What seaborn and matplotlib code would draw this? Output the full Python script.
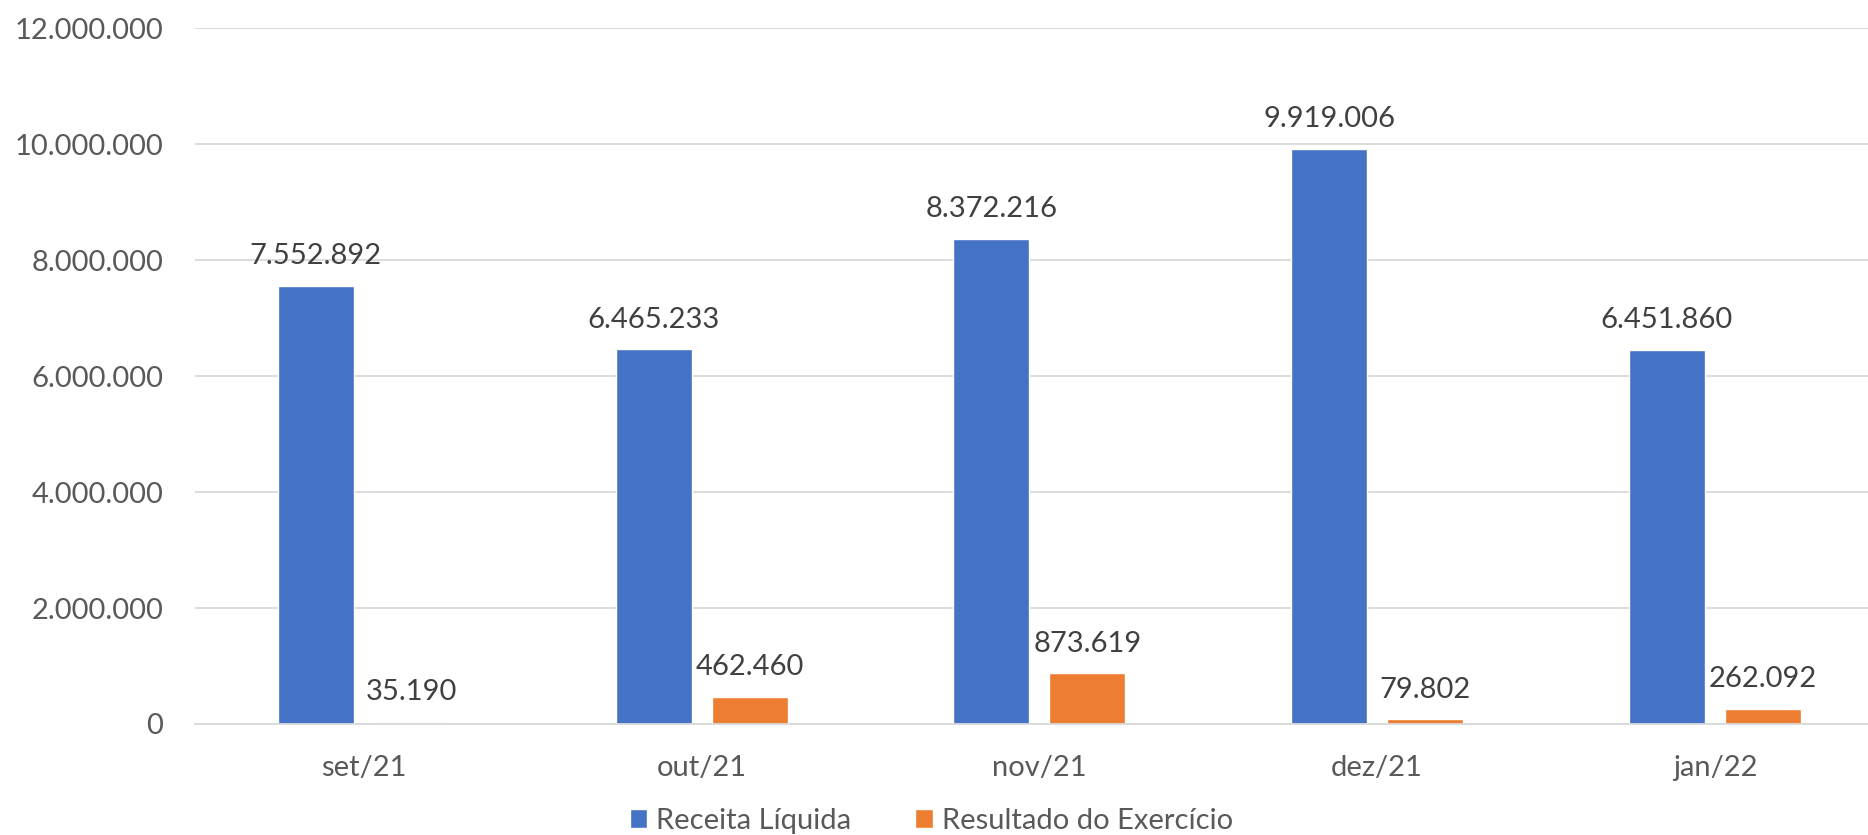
import pandas as pd
import matplotlib
matplotlib.use("Agg")
import matplotlib.pyplot as plt
from matplotlib.ticker import FuncFormatter, FixedLocator
import seaborn as sns

# dados
meses = ["set/21", "out/21", "nov/21", "dez/21", "jan/22"]
receita_liquida = [7552892, 6465233, 8372216, 9919006, 6451860]
resultado_exercicio = [35190, 462460, 873619, 79802, 262092]
series = ["Receita Líquida", "Resultado do Exercício"]
cores = ["#4472C4", "#ED7D31"]

df = pd.DataFrame({
    "mes": meses * 2,
    "valor": receita_liquida + resultado_exercicio,
    "serie": [series[0]] * len(meses) + [series[1]] * len(meses),
})


def fmt_br(v):
    return "{:,.0f}".format(v).replace(",", ".")


sns.set_style("white")
plt.rcParams["font.family"] = ["Lato", "DejaVu Sans"]

fig = plt.figure(figsize=(18.68, 8.35), dpi=100)
# the plot area runs a little past the right edge, like the original crop
ax = fig.add_axes([0.1044, 0.133, 0.904, 0.833])

sns.barplot(data=df, x="mes", y="valor", hue="serie", order=meses,
            hue_order=series, palette=cores, width=0.568, gap=0.208,
            saturation=1, ax=ax, legend=True)

for cont in ax.containers:
    labels = [fmt_br(b.get_height()) for b in cont]
    ax.bar_label(cont, labels=labels, padding=12, fontsize=21, color="#404040")

ax.set_ylim(0, 12000000)
ax.set_xlim(-0.5, len(meses) - 0.5)
ax.set_yticks(range(0, 12000001, 2000000))
ax.yaxis.set_major_formatter(FuncFormatter(lambda v, p: fmt_br(v)))
ax.grid(axis="y", color="#D9D9D9", linewidth=1.3)
ax.set_axisbelow(True)
for s in ["top", "right", "left"]:
    ax.spines[s].set_visible(False)
ax.spines["bottom"].set_color("#D9D9D9")
ax.spines["bottom"].set_linewidth(1.3)

ax.tick_params(axis="y", length=0, pad=23, labelsize=21, labelcolor="#595959")
ax.tick_params(axis="x", which="major", length=0, pad=22, labelsize=21,
               labelcolor="#595959")
ax.xaxis.set_minor_locator(FixedLocator([i - 0.5 for i in range(len(meses) + 1)]))
ax.tick_params(axis="x", which="minor", length=10, width=1.3, color="#D9D9D9")
ax.set_xlabel("")
ax.set_ylabel("")

ax.legend(loc="center", bbox_to_anchor=(0.436, -0.139), ncol=2,
          frameon=False, fontsize=21, labelcolor="#595959",
          handlelength=0.6, handleheight=0.6, handletextpad=0.3,
          columnspacing=2.2, borderaxespad=0, borderpad=0)

plt.savefig("out.png", dpi=100)
